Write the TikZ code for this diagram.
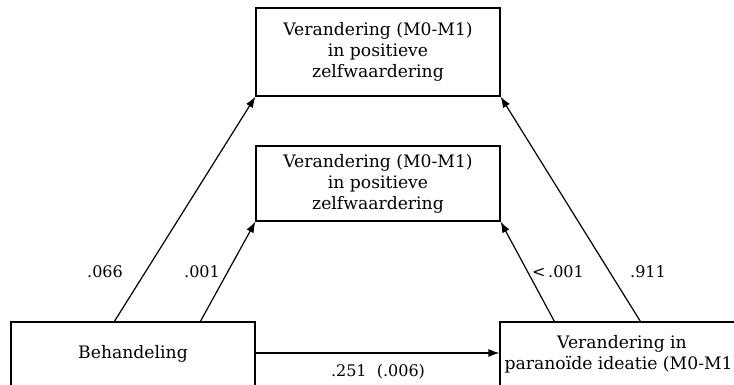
\documentclass[tikz,border=0pt]{standalone}
\usepackage{fontspec}
\setmainfont{DejaVu Serif}
\usetikzlibrary{arrows.meta}
\begin{document}
\begin{tikzpicture}[x=1pt,y=-1pt,
  box/.style={draw,line width=1.2pt,minimum width=244pt,align=center,inner sep=0pt,
    font=\fontsize{17.2}{21}\selectfont},
  arr/.style={line width=1.2pt,-{Latex[length=11pt,width=8pt]}},
  lab/.style={font=\fontsize{16}{19}\selectfont,inner sep=0pt}]
\useasboundingbox (0,0) rectangle (734,385);
\clip (0,0) rectangle (734,385);
\node[box,minimum height=88pt] (top) at (378,52) {Verandering (M0-M1)\\in positieve\\zelfwaardering};
\node[box,minimum height=75pt] (mid) at (378,183.5) {Verandering (M0-M1)\\in positieve\\zelfwaardering};
\node[box,minimum height=64pt] (beh) at (133,354) {Behandeling};
\node[box,minimum height=64pt] (par) at (622,354) {Verandering in\\paranoïde ideatie (M0-M1)};
\draw[arr] ([xshift=104pt]beh.north west) -- (top.south west);
\draw[arr] ([xshift=190pt]beh.north west) -- (mid.south west);
\draw[arr] ([xshift=55pt]par.north west) -- (mid.south east);
\draw[arr] ([xshift=141pt]par.north west) -- (top.south east);
\draw[arr] (beh.east |- 0,353) -- (par.west |- 0,353);
\node[lab] (l1) at (105,272) {.066};
\node[lab] (l2) at (202,272) {.001};
\node[lab] (l3) at (558,272) {<\,.001};
\node[lab] (l4) at (648,272) {.911};
\node[lab] (l5) at (378,372) {.251\ \ (.006)};
\end{tikzpicture}
\end{document}
